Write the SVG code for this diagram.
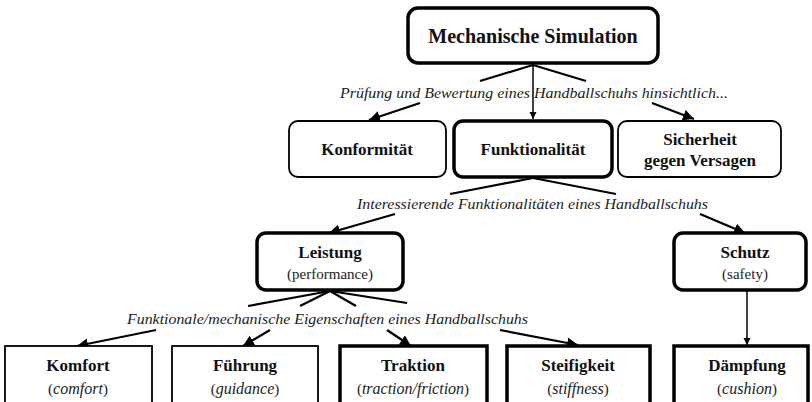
<svg xmlns="http://www.w3.org/2000/svg" width="812" height="402" viewBox="0 0 812 402">
<defs>
<marker id="ah" viewBox="0 0 10 10" refX="10" refY="5" markerWidth="5" markerHeight="5" orient="auto" markerUnits="strokeWidth">
<path d="M0,0 L10,5 L0,10 z" fill="#000"/>
</marker>
<style>
.thick{fill:#fff;stroke:#000;stroke-width:3.5}
.thin{fill:#fff;stroke:#000;stroke-width:1.8}
text{font-family:'Liberation Serif','DejaVu Serif',serif}
.b{font-weight:bold;fill:#111;text-anchor:middle;font-size:17px}
.r{fill:#222;text-anchor:middle;font-size:15px}
.i{font-style:italic;font-size:16px}
.lab{font-style:italic;fill:#222;font-size:15px}
.c{stroke:#000;stroke-width:2.2;fill:none}
.a{stroke:#000;stroke-width:2.2;fill:none;marker-end:url(#ah)}
.v{stroke:#000;stroke-width:1.5;fill:none;marker-end:url(#ah)}
</style>
</defs>
<rect width="812" height="402" fill="#fff"/>

<g id="connectors">
<line class="c" x1="533" y1="65" x2="480" y2="81"/>
<line class="c" x1="533" y1="65" x2="586" y2="81"/>
<line class="v" x1="533" y1="64" x2="533" y2="119"/>
<line class="a" x1="420" y1="103" x2="369" y2="120"/>
<line class="a" x1="652" y1="103" x2="694" y2="119"/>

<line class="c" x1="533" y1="178" x2="450" y2="194"/>
<line class="c" x1="533" y1="178" x2="616" y2="194"/>
<line class="a" x1="395" y1="214" x2="329" y2="233"/>
<line class="a" x1="700" y1="214" x2="745" y2="233"/>

<line class="v" x1="747" y1="291" x2="747" y2="345"/>

<line class="c" x1="330" y1="291" x2="248" y2="306"/>
<line class="c" x1="330" y1="291" x2="300" y2="306"/>
<line class="c" x1="330" y1="291" x2="356" y2="306"/>
<line class="c" x1="330" y1="291" x2="407" y2="303"/>
<line class="a" x1="156" y1="330" x2="77" y2="346"/>
<line class="a" x1="270" y1="330" x2="243" y2="346"/>
<line class="a" x1="387" y1="330" x2="411" y2="346"/>
<line class="a" x1="500" y1="330" x2="578" y2="345"/>
</g>

<g id="lbl1"><text class="lab" x="340" y="98" textLength="388" lengthAdjust="spacingAndGlyphs">Prüfung und Bewertung eines Handballschuhs hinsichtlich...</text></g>
<g id="lbl2"><text class="lab" x="357" y="209" textLength="351" lengthAdjust="spacingAndGlyphs">Interessierende Funktionalitäten eines Handballschuhs</text></g>
<g id="lbl3"><text class="lab" x="127" y="324" textLength="401" lengthAdjust="spacingAndGlyphs">Funktionale/mechanische Eigenschaften eines Handballschuhs</text></g>

<g id="n-mech">
<rect class="thick" x="408" y="8" width="250" height="55" rx="10"/>
<text class="b" x="533" y="43" style="font-size:20px">Mechanische Simulation</text>
</g>
<g id="n-konf">
<rect class="thin" x="289" y="121" width="157" height="56" rx="9"/>
<text class="b" x="367" y="155">Konformität</text>
</g>
<g id="n-funk">
<rect class="thick" x="454" y="121" width="158" height="56" rx="9"/>
<text class="b" x="533" y="155">Funktionalität</text>
</g>
<g id="n-sich">
<rect class="thin" x="618" y="121" width="163" height="56" rx="9"/>
<text class="b" x="700" y="145">Sicherheit</text>
<text class="b" x="700" y="166">gegen Versagen</text>
</g>
<g id="n-leist">
<rect class="thick" x="257" y="233" width="146" height="57" rx="9"/>
<text class="b" x="330" y="258">Leistung</text>
<text class="r" x="330" y="279">(performance)</text>
</g>
<g id="n-schutz">
<rect class="thick" x="674" y="233" width="132" height="57" rx="9"/>
<text class="b" x="745" y="258">Schutz</text>
<text class="r" x="745" y="279">(safety)</text>
</g>
<g id="n-komf">
<rect class="thin" x="5" y="346" width="147" height="70"/>
<text class="b" x="78" y="371">Komfort</text>
<text class="r" x="78" y="394">(<tspan class="i">comfort</tspan>)</text>
</g>
<g id="n-fuehr">
<rect class="thin" x="172" y="346" width="146" height="70"/>
<text class="b" x="245" y="371">Führung</text>
<text class="r" x="245" y="394">(<tspan class="i">guidance</tspan>)</text>
</g>
<g id="n-trak">
<rect class="thick" x="340" y="346" width="147" height="70"/>
<text class="b" x="413" y="371">Traktion</text>
<text class="r" x="413" y="394">(<tspan class="i">traction/friction</tspan>)</text>
</g>
<g id="n-steif">
<rect class="thick" x="507" y="346" width="143" height="70"/>
<text class="b" x="578" y="371">Steifigkeit</text>
<text class="r" x="578" y="394">(<tspan class="i">stiffness</tspan>)</text>
</g>
<g id="n-daempf">
<rect class="thick" x="674" y="346" width="134" height="70"/>
<text class="b" x="747" y="371">Dämpfung</text>
<text class="r" x="747" y="394">(<tspan class="i">cushion</tspan>)</text>
</g>
</svg>
